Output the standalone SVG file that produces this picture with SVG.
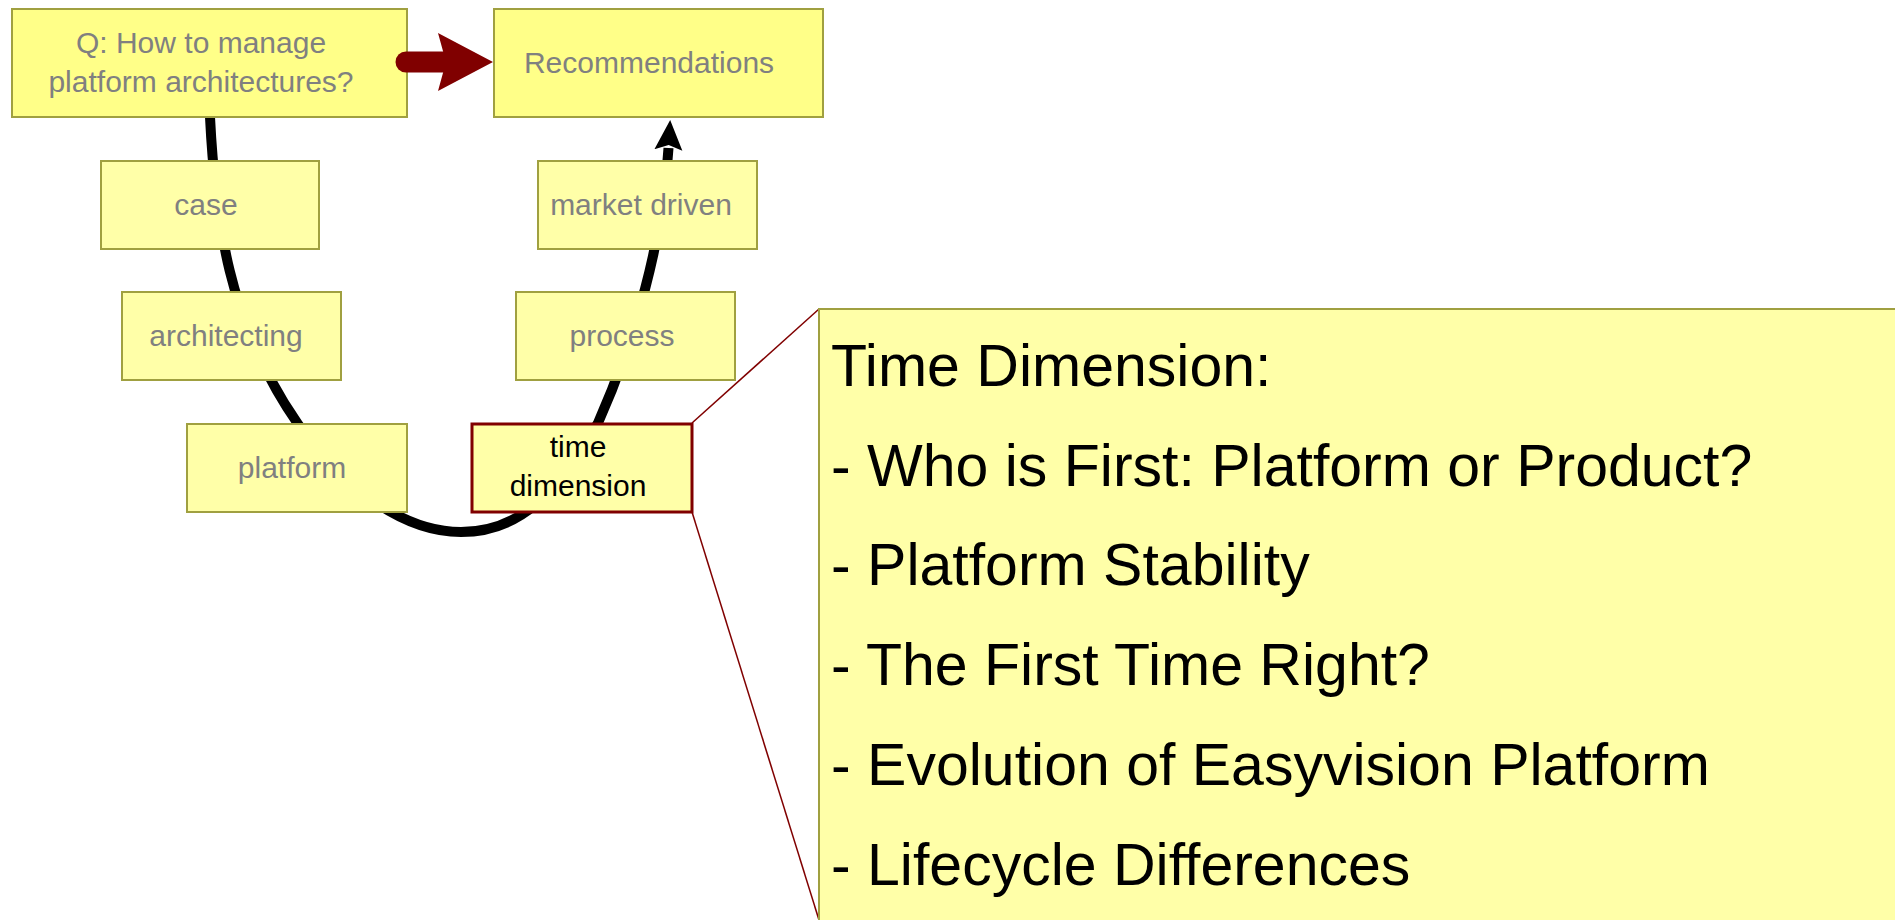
<svg xmlns="http://www.w3.org/2000/svg" width="1895" height="920" viewBox="0 0 1895 920">
  <style>
    .box { fill: #ffffa8; stroke: #a0a040; stroke-width: 2; }
    .boxhi { fill: #ffff88; stroke: #a0a040; stroke-width: 2; }
    .lbl { font-family: "Liberation Sans", Arial, sans-serif; font-size: 30px; fill: #808080; text-anchor: middle; }
    .lblk { font-family: "Liberation Sans", Arial, sans-serif; font-size: 30px; fill: #000000; text-anchor: middle; }
    .big { font-family: "Liberation Sans", Arial, sans-serif; font-size: 59px; fill: #000000; }
    .flow { fill: none; stroke: #000000; stroke-width: 10; }
    .callout { fill: none; stroke: #800000; stroke-width: 1.5; }
  </style>
  <defs>
    <marker id="blackhead" markerUnits="userSpaceOnUse" markerWidth="30" markerHeight="30" refX="2" refY="14" orient="auto">
      <path d="M0,0 L30,14 L0,28 L5,14 z" fill="#000000"/>
    </marker>
  </defs>
  <rect width="1895" height="920" fill="#ffffff"/>

  <g id="connectors">
    <path class="flow" d="M210,117 C215,217 228,324 298,424 C340,484 401,532 461,532 C521,532 556,493 598,423 C635,340 663,240 668.5,148" marker-end="url(#blackhead)"/>
    <line class="callout" x1="692" y1="423" x2="819" y2="309"/>
    <line class="callout" x1="692" y1="512" x2="819" y2="920"/>
  </g>

  <g id="question">
    <rect class="boxhi" x="12" y="9" width="395" height="108"/>
    <text class="lbl" x="201" y="53">Q: How to manage</text>
    <text class="lbl" x="201" y="92">platform architectures?</text>
  </g>
  <g id="recommendations">
    <rect class="boxhi" x="494" y="9" width="329" height="108"/>
    <text class="lbl" x="649" y="73">Recommendations</text>
  </g>
  <g id="case">
    <rect class="box" x="101" y="161" width="218" height="88"/>
    <text class="lbl" x="206" y="215">case</text>
  </g>
  <g id="market-driven">
    <rect class="box" x="538" y="161" width="219" height="88"/>
    <text class="lbl" x="641" y="215">market driven</text>
  </g>
  <g id="architecting">
    <rect class="box" x="122" y="292" width="219" height="88"/>
    <text class="lbl" x="226" y="346">architecting</text>
  </g>
  <g id="process">
    <rect class="box" x="516" y="292" width="219" height="88"/>
    <text class="lbl" x="622" y="346">process</text>
  </g>
  <g id="platform">
    <rect class="box" x="187" y="424" width="220" height="88"/>
    <text class="lbl" x="292" y="478">platform</text>
  </g>
  <g id="time-dimension">
    <rect x="472" y="424" width="220" height="88" fill="#ffffa8" stroke="#800000" stroke-width="3"/>
    <text class="lblk" x="578" y="457">time</text>
    <text class="lblk" x="578" y="496">dimension</text>
  </g>
  <g id="time-dimension-detail">
    <rect class="box" x="819" y="309" width="1100" height="640"/>
    <text class="big" x="831" y="386">Time Dimension:</text>
    <text class="big" x="831" y="486">- Who is First: Platform or Product?</text>
    <text class="big" x="831" y="585">- Platform Stability</text>
    <text class="big" x="831" y="685">- The First Time Right?</text>
    <text class="big" x="831" y="785">- Evolution of Easyvision Platform</text>
    <text class="big" x="831" y="885">- Lifecycle Differences</text>
  </g>

  <g id="connector-main-arrow">
    <line x1="406" y1="62" x2="446" y2="62" stroke="#800000" stroke-width="21" stroke-linecap="round"/>
    <polygon points="438,33 493,62 438,91 446,62" fill="#800000"/>
  </g>
</svg>
